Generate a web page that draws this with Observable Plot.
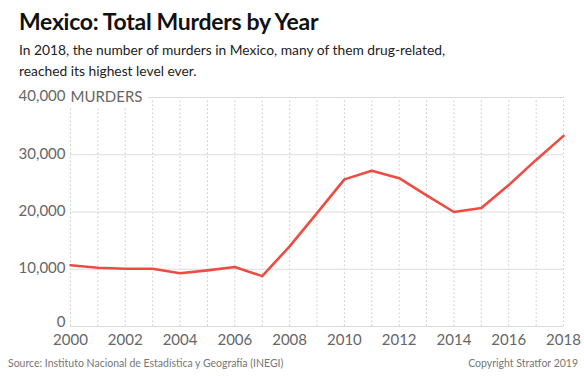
<!DOCTYPE html>
<html>
<head>
<meta charset="utf-8">
<script src="https://cdn.jsdelivr.net/npm/d3@7"></script>
<script src="https://cdn.jsdelivr.net/npm/@observablehq/plot@0.6"></script>
<style>
  html, body { margin: 0; padding: 0; background: #fff; }
  #wrap { position: relative; width: 584px; height: 376px; font-family: Lato, "Open Sans", sans-serif; overflow: hidden; }
  #title { position: absolute; left: 19px; top: 7px; font-size: 23px; font-weight: 700; color: #111; letter-spacing: -0.3px; white-space: nowrap; }
  #subtitle { position: absolute; left: 19px; top: 39px; font-size: 13.8px; line-height: 21px; color: #222; white-space: nowrap; }
  #chart { position: absolute; left: 0; top: 85px; }
  #source { position: absolute; left: 8px; top: 357px; font-size: 10.5px; color: #777; }
  #copy { position: absolute; right: 6px; top: 357px; font-size: 10.5px; color: #777; }
</style>
</head>
<body>
<div id="wrap">
  <div id="title">Mexico: Total Murders by Year</div>
  <div id="subtitle">In 2018, the number of murders in Mexico, many of them drug-related,<br>reached its highest level ever.</div>
  <div id="chart"></div>
  <div id="source">Source: Instituto Nacional de Estadística y Geografía (INEGI)</div>
  <div id="copy">Copyright Stratfor 2019</div>
</div>
<script>
const years = [2000, 2001, 2002, 2003, 2004, 2005, 2006, 2007, 2008, 2009, 2010, 2011, 2012, 2013, 2014, 2015, 2016, 2017, 2018];
const murders = [10700, 10250, 10100, 10100, 9300, 9800, 10400, 8800, 14000, 19800, 25700, 27200, 25900, 22900, 20000, 20700, 24700, 29100, 33300];
const yTicks = [0, 10000, 20000, 30000, 40000];
const xTicks = [2000, 2002, 2004, 2006, 2008, 2010, 2012, 2014, 2016, 2018];
const yUnit = "MURDERS";

const data = years.map((y, i) => ({year: y, value: murders[i]}));
const fmt = d3.format(",");

const chart = Plot.plot({
  width: 584,
  height: 265,
  marginTop: 12,
  marginLeft: 70,
  marginRight: 21,
  marginBottom: 24,
  style: {fontFamily: "Lato, 'Open Sans', sans-serif", background: "transparent"},
  x: {domain: [2000, 2018]},
  y: {domain: [0, 40000]},
  marks: [
    Plot.ruleX(years, {x: d => d, y1: 0, y2: 40000, stroke: "#c8c8c8", strokeDasharray: "1.5,2.5", strokeWidth: 1}),
    Plot.ruleY(yTicks, {stroke: "#dcdcdc", strokeWidth: 1.2}),
    Plot.text([yUnit], {frameAnchor: "left", y: 40000, text: d => d, textAnchor: "start", dx: 0, fontSize: 15, fill: "#666", stroke: "white", strokeWidth: 12, paintOrder: "stroke"}),
    Plot.axisY({ticks: yTicks.filter(t => t > 0), tickSize: 0, tickPadding: 5, dy: -1, tickFormat: fmt, fontSize: 15, color: "#666", label: null}),
    Plot.axisY({ticks: yTicks.filter(t => t === 0), tickSize: 0, tickPadding: 5, dy: -4, tickFormat: fmt, fontSize: 15, color: "#666", label: null}),
    Plot.axisX({ticks: xTicks, tickSize: 0, tickPadding: 8, tickFormat: d => String(d), fontSize: 15, color: "#666", label: null}),
    Plot.line(data, {x: "year", y: "value", stroke: "#ee4c43", strokeWidth: 2.6, strokeLinejoin: "round"})
  ]
});
document.getElementById("chart").appendChild(chart);
</script>
</body>
</html>
